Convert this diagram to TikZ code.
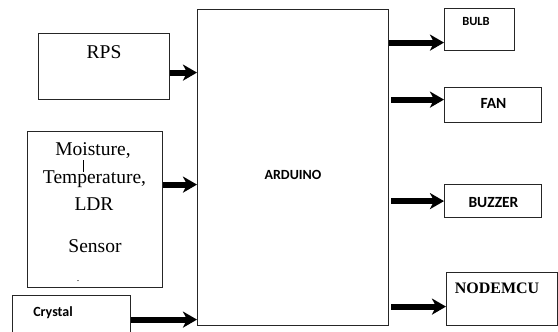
\documentclass[tikz,border=0pt]{standalone}
\usepackage{fontspec}
\setmainfont{Liberation Serif}
\newfontfamily\calibri{Carlito}
\usetikzlibrary{arrows.meta}
\def\boxcol{black!85}
\def\serifsize{\fontsize{19.5}{20}\selectfont}
\def\sanssize{\fontsize{14}{14}\selectfont}

\begin{document}
\begin{tikzpicture}[
    x=1pt, y=-1pt,
    blockbox/.style={
      draw=\boxcol, line width=1.2pt, anchor=north west, inner sep=0pt
    },
    seriftext/.style={
      font=\serifsize, anchor=base, inner sep=0pt
    },
    sanstext/.style={
      font=\calibri\bfseries\sanssize, anchor=base, inner sep=0pt
    },
    fatarrow/.style={
      line width=6pt, -{Stealth[length=14pt,width=16pt,inset=4pt]}
    }
  ]
    \useasboundingbox (0,0) rectangle (558,332);

    % blocks
    \node[blockbox, minimum width=131pt, minimum height=66pt]  (rps)     at (38,33)   {};
    \node[blockbox, minimum width=135pt, minimum height=156pt] (sensor)  at (27,131)  {};
    \node[blockbox, minimum width=118pt, minimum height=48pt]  (crystal) at (12,295)  {};
    \node[blockbox, minimum width=191pt, minimum height=316pt] (arduino) at (197,9)   {};
    \node[blockbox, minimum width=70pt,  minimum height=42pt]  (bulb)    at (444,8)   {};
    \node[blockbox, minimum width=97pt,  minimum height=35pt]  (fan)     at (444,87)  {};
    \node[blockbox, minimum width=97pt,  minimum height=33pt]  (buzzer)  at (444,184) {};
    \node[blockbox, minimum width=111pt, minimum height=53pt]  (nodemcu) at (446,272) {};

    % texts
    \node[seriftext] (rpsT)   at (104,58)  {RPS};
    \node[seriftext] (sensM)  at (93,155)  {Moisture,};
    \node[seriftext] (sensT)  at (94.5,183) {Temperature,};
    \node[seriftext] (sensL)  at (94,210)  {LDR};
    \node[seriftext] (sensS)  at (95,252)  {Sensor};
    \node[seriftext, font=\fontsize{10}{10}\selectfont] (sensDot) at (78,281) {.};
    \draw[line width=0.8pt] (83,160) -- (83,172);

    \node[sanstext] (crystalT) at (53,316)   {Crystal};
    \node[sanstext] (arduinoT) at (293,179)  {ARDUINO};
    \node[sanstext, font=\calibri\bfseries\fontsize{12.5}{12.5}\selectfont] (bulbT) at (476,26) {BULB};
    \node[sanstext, font=\calibri\bfseries\fontsize{15.5}{15.5}\selectfont] (fanT) at (493.5,108) {FAN};
    \node[sanstext, font=\calibri\bfseries\fontsize{15.5}{15.5}\selectfont] (buzzerT) at (493.5,207) {BUZZER};
    \node[seriftext, font=\bfseries\fontsize{16}{16}\selectfont] (nodemcuT) at (497,293) {NODEMCU};

    % inputs
    \coordinate (rps-out)     at ([yshift=-6pt]rps.east);
    \coordinate (sensor-out)  at ([yshift=25pt]sensor.east);
    \coordinate (crystal-out) at (crystal.east);
    \foreach \name in {rps,sensor,crystal} {
      \draw[fatarrow] (\name-out) -- (\name-out -| arduino.west);
    }

    % outputs
    \foreach \name/\shift/\gap in {bulb/-13/0, fan/5.5/2, buzzer/0/2, nodemcu/-7.5/2} {
      \coordinate (\name-in) at ([yshift=\shift pt]\name.west);
      \draw[fatarrow, shorten <=\gap pt] (\name-in -| arduino.east) -- (\name-in);
    }
  \end{tikzpicture}
\end{document}
